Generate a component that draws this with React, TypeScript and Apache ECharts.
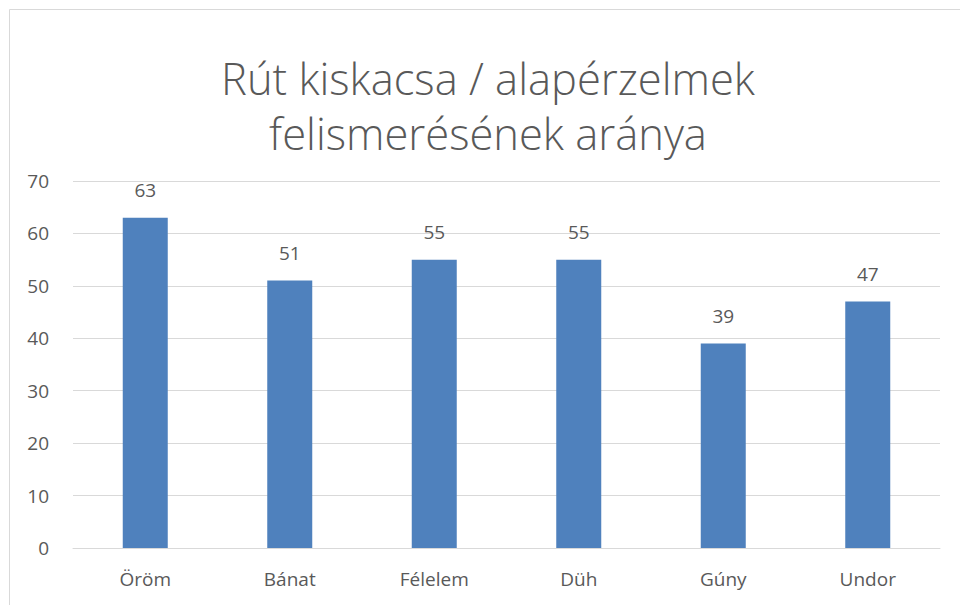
import React, { useEffect, useRef } from "react";
import * as echarts from "echarts";

const categories = ["Öröm", "Bánat", "Félelem", "Düh", "Gúny", "Undor"];
const values = [63, 51, 55, 55, 39, 47];
const titleLines = ["Rút kiskacsa / alapérzelmek", "felismerésének aránya"];
const yMin = 0;
const yMax = 70;
const yInterval = 10;

const FONT = "'Open Sans', 'Noto Sans', sans-serif";
const TEXT = "#595959";

export default function App() {
  const ref = useRef<HTMLDivElement>(null);
  useEffect(() => {
    if (!ref.current) return;
    const chart = echarts.init(ref.current, null, { renderer: "svg" });
    chart.setOption({
      animation: false,
      backgroundColor: "#ffffff",
      textStyle: { fontFamily: FONT },
      graphic: [
        {
          type: "rect",
          shape: { x: 9.5, y: 9.5, width: 960, height: 610 },
          style: { fill: "none", stroke: "#d9d9d9", lineWidth: 1 },
          silent: true,
        },
        ...titleLines.map((t, i) => ({
          type: "text",
          x: 488,
          y: 78 + i * 55,
          style: {
            text: t,
            fontFamily: FONT,
            fontSize: 43.5,
            fontWeight: 300,
            fill: TEXT,
            textAlign: "center",
            textVerticalAlign: "middle",
          },
          silent: true,
        })),
      ],
      grid: { left: 73, right: 20, top: 181, bottom: 57, containLabel: false },
      xAxis: {
        type: "category",
        data: categories,
        axisLine: { show: true, lineStyle: { color: "#d9d9d9", width: 1 } },
        axisTick: { show: false },
        axisLabel: { color: TEXT, fontSize: 19, margin: 21, fontFamily: FONT },
      },
      yAxis: {
        type: "value",
        min: yMin,
        max: yMax,
        interval: yInterval,
        axisLine: { show: false },
        axisTick: { show: false },
        splitLine: { lineStyle: { color: "#d9d9d9", width: 1 } },
        axisLabel: { color: TEXT, fontSize: 19, margin: 24, fontFamily: FONT },
      },
      series: [
        {
          type: "bar",
          data: values,
          barWidth: 45,
          itemStyle: { color: "#4f81bd" },
          label: {
            show: true,
            position: "top",
            distance: 18,
            color: TEXT,
            fontSize: 19,
            fontFamily: FONT,
          },
        },
      ],
    });
    return () => chart.dispose();
  }, []);
  return (
    <div
      ref={ref}
      style={{ position: "absolute", left: 0, top: 0, width: 960, height: 605 }}
    />
  );
}
